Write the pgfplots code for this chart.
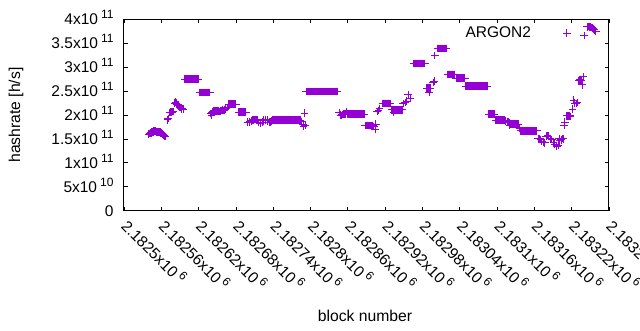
\documentclass[border=0pt]{standalone}
\usepackage{fontspec}
\setmainfont{Liberation Sans}
\usepackage{pgfplots}
\pgfplotsset{compat=1.18}
\definecolor{gp}{RGB}{148,0,211}
\newcommand{\sci}[2]{#1x10\hspace{3pt}\raisebox{6pt}{\fontsize{12}{12}\selectfont #2}}
\begin{document}
\begin{tikzpicture}
\begin{axis}[
  name=ax,
  scale only axis,
  width=485pt, height=191.4pt,
  xmin=0, xmax=780, ymin=0, ymax=4,
  axis line style={line width=1pt, black},
  every tick/.style={black, line width=0.8pt},
  major tick length=4pt,
  tick align=inside,
  xtick={0,60,...,780},
  ytick={0,0.5,...,4},
  xticklabels={\sci{2.1825}{6},\sci{2.18256}{6},\sci{2.18262}{6},\sci{2.18268}{6},\sci{2.18274}{6},\sci{2.1828}{6},\sci{2.18286}{6},\sci{2.18292}{6},\sci{2.18298}{6},\sci{2.18304}{6},\sci{2.1831}{6},\sci{2.18316}{6},\sci{2.18322}{6},\sci{2.18328}{6}},
  yticklabels={0,\sci{5}{10},\sci{1}{11},\sci{1.5}{11},\sci{2}{11},\sci{2.5}{11},\sci{3}{11},\sci{3.5}{11},\sci{4}{11}},
  ticklabel style={font=\fontsize{15.5}{18}\selectfont},
  yticklabel style={anchor=base east, xshift=-7pt, yshift=-5.5pt},
  xticklabel style={xshift=-1pt, yshift=-9pt, rotate=-45, anchor=west},
  xlabel={block number},
  ylabel={hashrate [h/s]},
  label style={font=\fontsize{15.7}{18}\selectfont},
  xlabel style={at={(axis description cs:0.497,-0.58)}, anchor=base},
  ylabel style={at={(axis description cs:-0.2227,0.5)}, anchor=center},
  legend plot pos=right,
  legend style={draw=none, fill=none, font=\fontsize{15.5}{18}\selectfont,
    at={(axis description cs:0.9275,0.9284)}, anchor=east, column sep=30pt},
  clip=false,
]
\addplot[only marks, mark=+, gp, mark size=3.8pt, mark options={line width=1pt}] coordinates {
(40,1.60)(41,1.61)(42,1.62)(43,1.63)(44,1.63)(45,1.64)(46,1.64)(47,1.65)(48,1.66)(49,1.67)(50,1.67)(51,1.66)(52,1.65)(53,1.64)(54,1.64)(55,1.65)(56,1.65)(57,1.64)(58,1.64)(59,1.63)(60,1.62)(61,1.61)(62,1.60)(63,1.59)(64,1.58)(65,1.56)(66,1.55)
(70,1.90)(71,1.93)(73,2.05)(74,2.06)(75,2.06)(76,2.05)(77,2.06)(78,2.07)(79,2.07)(82,2.25)(83,2.27)(84,2.25)(85,2.23)(86,2.22)(87,2.21)(88,2.19)(89,2.18)(90,2.17)(91,2.16)(92,2.14)(93,2.13)(95,2.12)
(98,2.75)(99,2.75)(100,2.75)(101,2.75)(102,2.75)(103,2.75)(104,2.75)(105,2.75)(106,2.75)(107,2.75)(108,2.75)(109,2.75)(110,2.75)(111,2.75)(112,2.75)(113,2.75)(114,2.75)(115,2.75)(116,2.75)(117,2.75)(118,2.75)(119,2.75)(120,2.75)
(122,2.47)(123,2.47)(124,2.47)(125,2.47)(126,2.47)(127,2.47)(128,2.47)(129,2.47)(130,2.47)(131,2.47)(132,2.47)(133,2.47)(134,2.47)(135,2.47)(136,2.47)(137,2.47)(138,2.47)
(139,2.03)(141,2.00)(142,2.06)(143,2.07)(144,2.08)(145,2.08)(146,2.09)(147,2.08)(148,2.07)(149,2.08)(150,2.08)(151,2.08)(152,2.08)(153,2.07)(154,2.07)(155,2.08)(156,2.09)(157,2.09)(158,2.10)(159,2.10)(160,2.09)(161,2.10)(162,2.11)(164,2.13)(166,2.16)
(168,2.23)(169,2.23)(170,2.23)(171,2.23)(172,2.23)(173,2.23)(174,2.23)(175,2.23)(176,2.23)(177,2.23)(178,2.23)(179,2.23)(180,2.23)
(184,2.06)(185,2.06)(186,2.06)(187,2.06)(188,2.06)(189,2.06)(190,2.06)(191,2.06)(192,2.06)(193,2.06)(194,2.06)(195,2.06)(196,2.06)
(199,1.85)(202,1.86)(205,1.88)(207,1.89)(208,1.90)(210,1.91)(211,1.91)(213,1.90)(214,1.89)(217,1.84)(219,1.83)(220,1.84)(222,1.85)(224,1.88)(225,1.89)(227,1.90)(228,1.90)(230,1.89)(231,1.88)(234,1.85)(236,1.86)(237,1.87)
(239,1.89)(240,1.89)(241,1.89)(242,1.89)(243,1.89)(244,1.89)(245,1.89)(246,1.89)(247,1.89)(248,1.89)(249,1.89)(250,1.89)(251,1.89)(252,1.89)(253,1.89)(254,1.89)(255,1.89)(256,1.89)(257,1.89)(258,1.89)(259,1.89)(260,1.89)(261,1.89)(262,1.89)(263,1.89)(264,1.89)(265,1.89)(266,1.89)(267,1.89)(268,1.89)(269,1.89)(270,1.89)(271,1.89)(272,1.89)(273,1.89)(274,1.89)(275,1.89)(276,1.89)(277,1.89)(278,1.89)(279,1.89)(280,1.89)(281,1.89)(282,1.89)(283,1.89)(284,1.89)
(286,1.86)(288,1.80)(289,1.76)(290,2.04)(292,1.78)
(293,2.49)(294,2.49)(295,2.49)(296,2.49)(297,2.49)(298,2.49)(299,2.49)(300,2.49)(301,2.49)(302,2.49)(303,2.49)(304,2.49)(305,2.49)(306,2.49)(307,2.49)(308,2.49)(309,2.49)(310,2.49)(311,2.49)(312,2.49)(313,2.49)(314,2.49)(315,2.49)(316,2.49)(317,2.49)(318,2.49)(319,2.49)(320,2.49)(321,2.49)(322,2.49)(323,2.49)(324,2.49)(325,2.49)(326,2.49)(327,2.49)(328,2.49)(329,2.49)(330,2.49)(331,2.49)(332,2.49)(333,2.49)(334,2.49)(335,2.49)(336,2.49)(337,2.49)(338,2.49)(339,2.49)(340,2.49)(341,2.49)(342,2.49)(343,2.49)
(346,2.05)(348,2.00)(350,1.99)(351,2.01)(352,2.01)(353,2.02)(354,2.02)(355,2.02)(356,2.02)(357,2.02)(358,2.07)(359,2.02)(360,2.02)(361,2.02)(362,2.02)(363,2.02)(364,2.02)(365,2.02)(366,2.02)(367,2.02)(368,2.02)(369,2.02)(370,2.02)(371,2.02)(372,2.02)(373,2.02)(374,2.02)(375,2.02)(376,2.02)(377,2.02)(378,2.02)(379,2.02)(380,2.02)(381,2.02)(382,2.02)(383,2.02)(384,2.02)(385,2.02)(386,2.02)
(388,1.78)(389,1.78)(390,1.78)(391,1.78)(392,1.78)(393,1.78)(394,1.78)(395,1.78)(396,1.78)(397,1.78)(398,1.78)(399,1.78)(400,1.78)(402,1.76)(404,1.70)(405,1.81)
(407,2.07)(409,2.09)(411,2.14)
(416,2.24)(417,2.24)(418,2.24)(419,2.24)(420,2.24)(421,2.24)(422,2.24)(423,2.24)(424,2.24)(425,2.24)(426,2.24)(427,2.24)(428,2.24)
(430,2.11)(431,2.11)(432,2.11)(433,2.11)(434,2.06)(434,2.11)(435,2.11)(436,2.11)(437,2.11)(438,2.11)(439,2.11)(440,2.11)(441,2.11)(442,2.11)(443,2.11)(444,2.11)(445,2.11)(446,2.11)(447,2.11)(448,2.11)
(449,2.24)(452,2.26)(455,2.29)(457,2.42)(460,2.35)
(466,3.08)(467,3.08)(468,3.08)(469,3.08)(470,3.08)(471,3.08)(472,3.08)(473,3.08)(474,3.08)(475,3.08)(476,3.08)(477,3.08)(478,3.08)(479,3.08)(480,3.08)(481,3.08)(482,3.08)(483,3.08)(484,3.08)
(487,2.56)(488,2.56)(489,2.56)(490,2.56)(491,2.56)(492,2.56)(493,2.56)(491,2.48)(497,2.68)(499,2.71)
(500,3.24)
(504,3.39)(505,3.39)(506,3.39)(507,3.39)(508,3.39)(509,3.39)(510,3.39)(511,3.39)(512,3.39)(513,3.39)(514,3.39)(515,3.39)(516,3.39)(517,3.39)(518,3.39)
(520,2.85)(521,2.85)(522,2.85)(523,2.85)(524,2.85)(525,2.85)(526,2.85)(527,2.85)(528,2.85)(529,2.85)(530,2.85)(531,2.85)(532,2.85)
(534,2.77)(535,2.77)(536,2.77)(537,2.77)(538,2.77)(539,2.77)(540,2.77)(541,2.77)(542,2.77)(543,2.77)(544,2.77)(545,2.77)(546,2.77)(547,2.77)(548,2.77)
(550,2.60)(551,2.60)(552,2.60)(553,2.60)(554,2.60)(555,2.60)(556,2.60)(557,2.60)(558,2.60)(559,2.60)(560,2.60)(561,2.60)(562,2.60)(563,2.60)(564,2.60)(565,2.60)(566,2.60)(567,2.60)(568,2.60)(569,2.60)(570,2.60)(571,2.60)(572,2.60)(573,2.60)(574,2.60)(575,2.60)(576,2.60)(577,2.60)(578,2.60)(579,2.60)(580,2.60)(581,2.60)(582,2.60)(583,2.60)(584,2.60)
(586,2.02)(587,2.02)(588,2.02)(589,2.02)(590,2.02)(591,2.02)(592,2.02)(593,2.02)(594,2.02)(595,2.02)(596,2.02)
(598,1.89)(599,1.89)(600,1.89)(601,1.89)(602,1.89)(603,1.89)(604,1.89)(605,1.89)(606,1.89)(607,1.89)(608,1.89)(609,1.89)(610,1.89)(611,1.89)(612,1.89)
(614,1.87)(616,1.86)(618,1.85)(620,1.79)(620,1.84)
(622,1.81)(623,1.81)(624,1.81)(625,1.81)(626,1.81)(627,1.81)(628,1.81)(629,1.81)(630,1.81)(631,1.81)(632,1.81)(633,1.81)(634,1.81)
(636,1.72)(638,1.67)(639,1.67)(640,1.67)(641,1.67)(642,1.67)(643,1.67)(644,1.67)(645,1.67)(646,1.67)(647,1.67)(648,1.67)(649,1.67)(650,1.67)(651,1.67)(652,1.67)(653,1.67)(654,1.67)(655,1.67)(656,1.67)(657,1.67)(658,1.67)(659,1.67)(660,1.67)(661,1.67)(662,1.67)(663,1.67)(664,1.67)
(666,1.50)(667,1.51)(668,1.51)(669,1.50)(670,1.49)(672,1.45)(674,1.43)(677,1.42)(679,1.55)(680,1.56)(681,1.57)(682,1.56)(683,1.56)(686,1.51)(688,1.49)(691,1.42)(693,1.39)(696,1.34)(698,1.37)(700,1.51)(701,1.46)(703,1.48)(705,1.51)(707,1.50)
(708,1.79)(709,1.85)(712,1.98)(713,1.98)(714,1.98)(715,1.98)(716,1.99)(717,1.98)(718,1.97)(721,2.12)(723,2.31)(725,2.25)(727,2.24)(729,2.26)(731,2.72)(732,2.73)(733,2.74)(734,2.73)(735,2.73)(737,2.63)(739,2.80)
(740,3.66)(745,3.84)(746,3.84)(747,3.85)(748,3.84)(749,3.84)(750,3.84)(751,3.83)(752,3.83)(753,3.83)(755,3.80)(757,3.78)(759,3.75)
};
\addlegendentry{ARGON2}
\end{axis}
\pgfresetboundingbox
\path[use as bounding box] (ax.south west) ++(-124pt,-119.3pt) rectangle ++(640pt,330pt);
\end{tikzpicture}
\end{document}
